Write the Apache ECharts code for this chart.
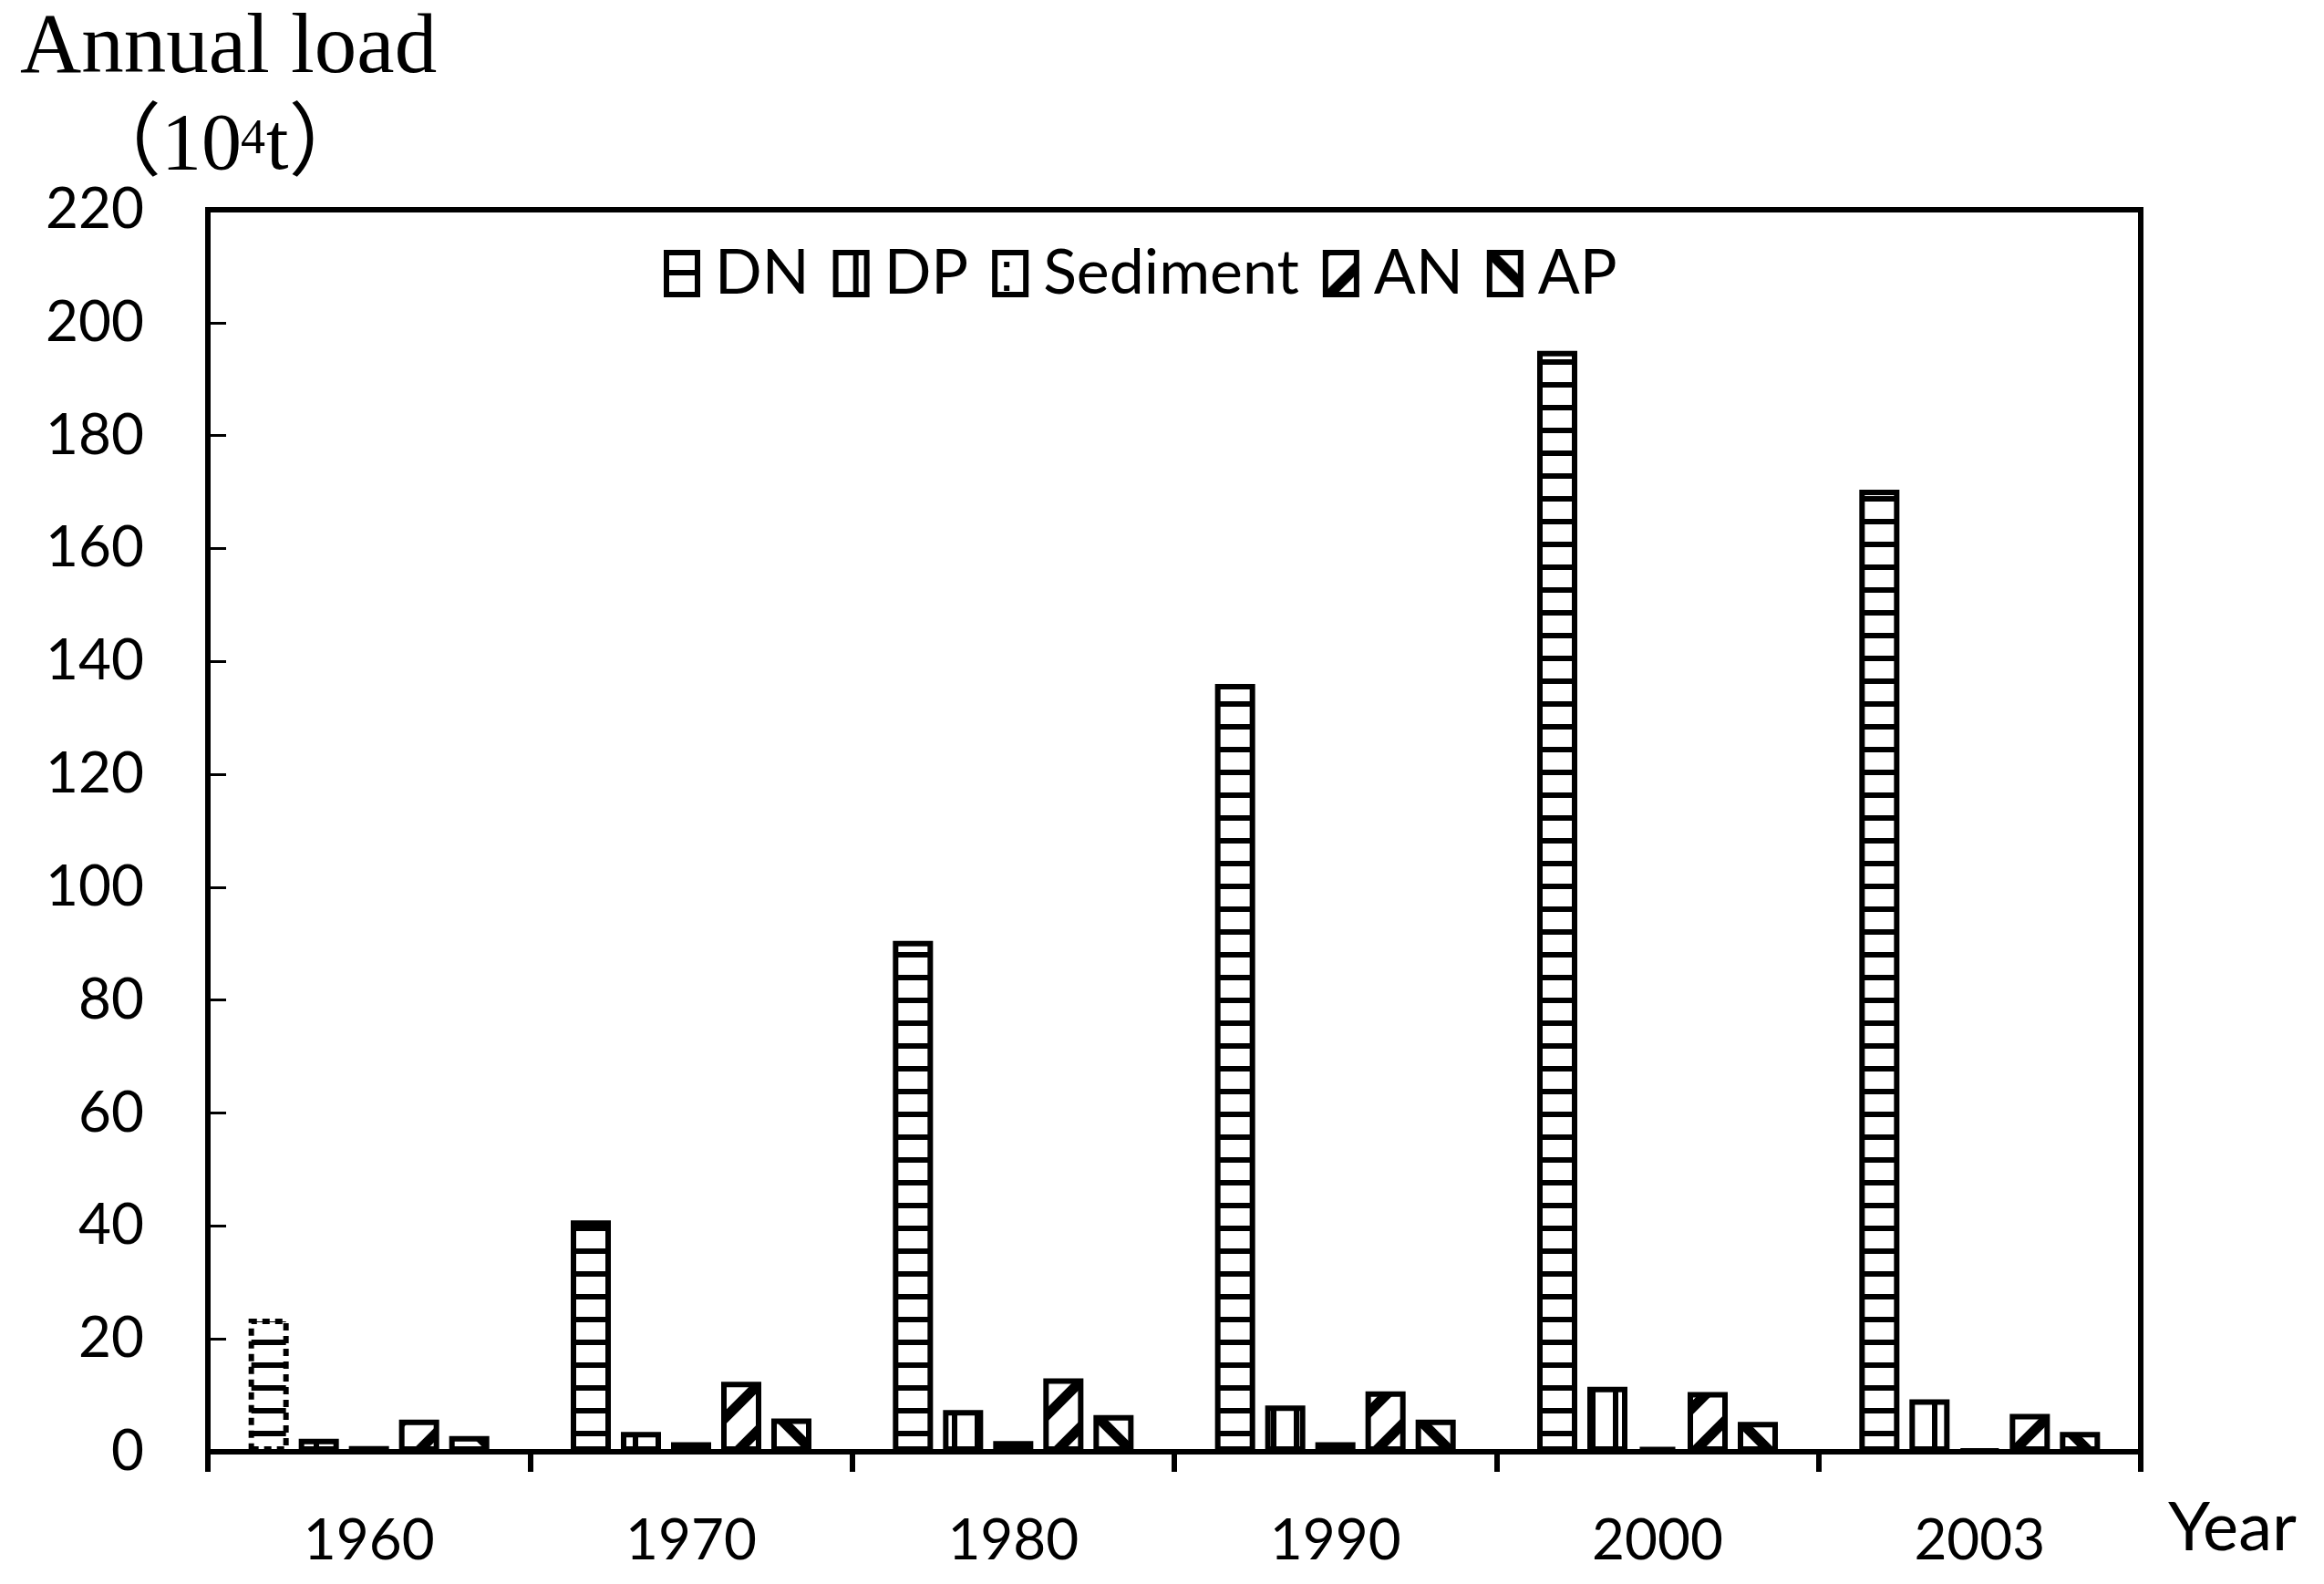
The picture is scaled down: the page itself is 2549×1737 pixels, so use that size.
<!DOCTYPE html>
<html>
<head>
<meta charset="utf-8">
<script src="https://cdn.jsdelivr.net/npm/echarts@6/dist/echarts.min.js"></script>
<style>
html,body{margin:0;padding:0;background:#fff;}
#chart{width:2549px;height:1737px;}
</style>
</head>
<body>
<div id="chart"></div>
<script>
// ---- data ----
const categories = ['1960', '1970', '1980', '1990', '2000', '2003'];
const seriesNames = ['DN', 'DP', 'Sediment', 'AN', 'AP'];
const DN = [23.6, 41, 90.5, 136, 195, 170.4];
const DP = [2.3, 3.5, 7.4, 8.2, 11.5, 9.3];
const Sediment = [1.0, 1.7, 1.9, 1.7, 0.8, 0.3];
const AN = [5.7, 12.4, 13.0, 10.7, 10.6, 6.7];
const AP = [2.8, 5.9, 6.5, 5.7, 5.3, 3.5];
const yMin = 0, yMax = 220, yStep = 20;

// ---- hatch patterns ----
function mk(w, h, draw) {
  const c = document.createElement('canvas');
  c.width = w; c.height = h;
  const g = c.getContext('2d');
  g.fillStyle = '#fff'; g.fillRect(0, 0, w, h);
  g.fillStyle = '#000'; g.strokeStyle = '#000';
  draw(g, w, h);
  return { image: c, repeat: 'repeat' };
}
const patH = mk(10, 25, (g, w, h) => g.fillRect(0, 19, w, 6));
const patV = mk(25, 10, (g, w, h) => g.fillRect(19, 0, 6, h));
const patDot = mk(26, 26, (g) => g.fillRect(10, 10, 6, 6));
const patSlash = mk(50, 50, (g, w, h) => {
  g.lineWidth = 11; g.lineCap = 'square';
  g.beginPath();
  g.moveTo(-10, 10); g.lineTo(10, -10);
  g.moveTo(0, 50); g.lineTo(50, 0);
  g.moveTo(40, 60); g.lineTo(60, 40);
  g.stroke();
});
const patBack = mk(50, 50, (g, w, h) => {
  g.lineWidth = 11; g.lineCap = 'square';
  g.beginPath();
  g.moveTo(40, -10); g.lineTo(60, 10);
  g.moveTo(0, 0); g.lineTo(50, 50);
  g.moveTo(-10, 40); g.lineTo(10, 60);
  g.stroke();
});
const patterns = [patH, patV, patDot, patSlash, patBack];
const values = [DN, DP, Sediment, AN, AP];

const chart = echarts.init(document.getElementById('chart'), null, { renderer: 'canvas' });
const series = seriesNames.map((name, i) => ({
  name: name,
  type: 'bar',
  barWidth: 44,
  barGap: '25%',
  itemStyle: { color: patterns[i], borderColor: '#000', borderWidth: 6 },
  emphasis: { disabled: true },
  data: values[i].map((v, j) => (i === 0 && j === 0)
    ? { value: v, itemStyle: { borderType: [8, 6] } }
    : v)
}));

const option = {
  animation: false,
  backgroundColor: '#fff',
  grid: { left: 228, right: 201, top: 230, bottom: 145, show: true, borderColor: '#000', borderWidth: 6, containLabel: false },
  legend: {
    data: seriesNames,
    left: 728, top: 266,
    itemWidth: 34, itemHeight: 46, itemGap: 26,
    padding: 0,
    icon: 'rect',
    itemStyle: { borderColor: '#000', borderWidth: 6 },
    textStyle: { fontFamily: 'Lato', fontSize: 68, color: '#000', padding: [0, 0, 0, 14] }
  },
  xAxis: {
    type: 'category',
    data: categories,
    axisLine: { lineStyle: { color: '#000', width: 6 } },
    axisTick: { show: true, inside: false, length: 22, lineStyle: { color: '#000', width: 6 } },
    axisLabel: { fontFamily: 'Lato', fontSize: 62, color: '#000', margin: 67 },
    splitLine: { show: false }
  },
  yAxis: {
    type: 'value',
    min: yMin, max: yMax, interval: yStep,
    axisLine: { show: true, lineStyle: { color: '#000', width: 6 } },
    axisTick: { show: true, inside: true, length: 20, lineStyle: { color: '#000', width: 3 } },
    axisLabel: { fontFamily: 'Lato', fontSize: 62, color: '#000', margin: 70 },
    splitLine: { show: false }
  },
  graphic: [
    { type: 'text', left: 22, top: 8, style: { text: 'Annual load', font: "93px 'Liberation Serif', 'DejaVu Serif', serif", fill: '#000' } },
    { type: 'text', x: 265, y: 162, style: { text: '（10', align: 'right', verticalAlign: 'middle', font: "88px 'Liberation Serif', 'Noto Sans CJK SC', serif", fill: '#000' } },
    { type: 'text', x: 264, y: 154, style: { text: '4', align: 'left', verticalAlign: 'middle', font: "54px 'Liberation Serif', serif", fill: '#000' } },
    { type: 'text', x: 292, y: 162, style: { text: 't）', align: 'left', verticalAlign: 'middle', font: "88px 'Liberation Serif', 'Noto Sans CJK SC', serif", fill: '#000' } },
    { type: 'text', x: 2378, y: 1676, style: { text: 'Year', align: 'left', verticalAlign: 'middle', font: "74px 'Lato', sans-serif", fill: '#000' } }
  ],
  series: series
};
chart.setOption(option);
</script>
</body>
</html>
